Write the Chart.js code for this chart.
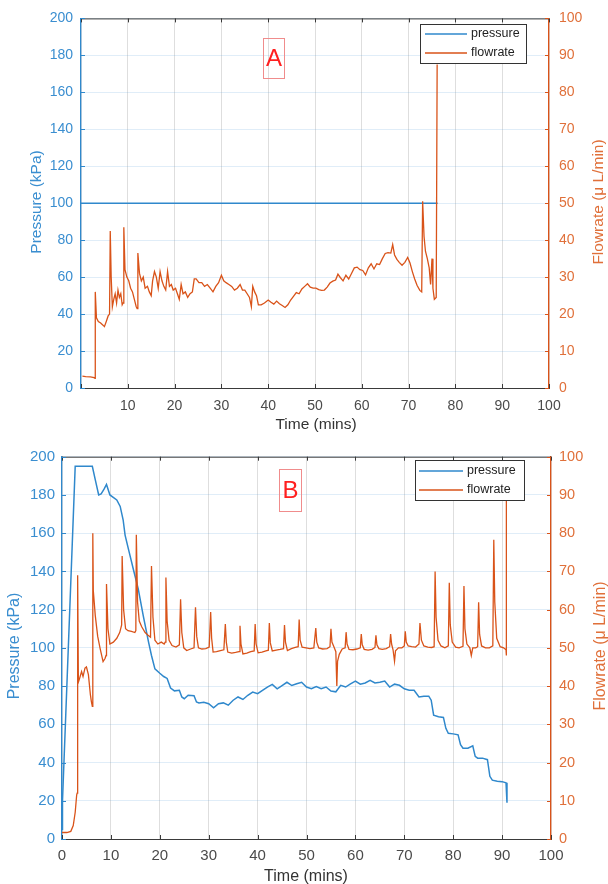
<!DOCTYPE html>
<html>
<head>
<meta charset="utf-8">
<script src="https://cdn.jsdelivr.net/npm/chart.js@4.4.1/dist/chart.umd.min.js"></script>
<style>
  body { margin: 0; background: #fff; }
  .panel { position: absolute; left: 0; width: 608px; }
  #wrapA { top: 0; height: 440px; }
  #wrapB { top: 440px; height: 444px; }
</style>
</head>
<body>
<div class="panel" id="wrapA"><canvas id="chartA" width="608" height="440"></canvas></div>
<div class="panel" id="wrapB"><canvas id="chartB" width="608" height="444"></canvas></div>
<script>
// ---- panel A ----
const timePressureA = [0, 76.2];
const pressureA = [100, 100];

const timeFlowA = [
  0.3, 1, 2, 2.8, 3.0, 3.05, 3.3, 3.7, 4.2, 4.7, 5.0, 5.4, 5.8, 6.1, 6.25, 6.45, 6.7, 7.0, 7.3, 7.6,
  7.9, 8.2, 8.5, 8.8, 9.0, 9.15, 9.4, 9.8, 10.2, 10.6, 11.0, 11.4, 11.8, 12.0, 12.15, 12.5, 12.9, 13.3, 13.7, 14.2,
  14.6, 15.0, 15.3, 15.7, 16.1, 16.5, 16.9, 17.3, 17.7, 18.1, 18.5, 18.9, 19.3, 19.7, 20.2, 20.6, 21.0, 21.4, 21.8, 22.3,
  22.8, 23.3, 23.8, 24.2, 24.6, 25.2, 25.8, 26.4, 27.0, 27.6, 28.2, 28.8, 29.4, 30.0, 30.5, 31.0, 31.6, 32.2, 32.8, 33.4,
  34.0, 34.5, 35.0, 35.5, 36.0, 36.4, 36.7, 37.1, 37.5, 37.9, 38.5, 39.2, 40.0, 40.6, 41.2, 41.8, 42.4, 43.0, 43.6, 44.2,
  44.8, 45.4, 46.0, 46.6, 47.2, 47.8, 48.4, 49.0, 49.6, 50.2, 50.8, 51.4, 52.0, 52.6, 53.2, 53.8, 54.4, 54.9, 55.4, 56.0,
  56.6, 57.2, 57.8, 58.4, 59.0, 59.6, 60.2, 60.8, 61.4, 62.0, 62.6, 63.2, 63.8, 64.4, 65.0, 65.6, 66.2, 66.6, 67.0, 67.5,
  68.0, 68.6, 69.2, 69.8, 70.3, 70.8, 71.3, 71.8, 72.4, 72.8, 73.0, 73.3, 73.6, 74.0, 74.4, 74.7, 75.0, 75.2, 75.5, 75.9, 76.1
];
const flowA = [
  3.2, 3.1, 3.0, 2.8, 2.6, 26, 19, 18, 17.6, 17, 16.6, 18, 19.5, 20, 42.5, 30, 22, 24, 25.5, 23,
  26.5, 24.5, 25.5, 22.5, 23, 43.5, 32, 30, 29, 27, 26, 24, 22, 21.5, 36.5, 31, 29, 30, 27, 27.5,
  26, 25, 29, 31.5, 30, 27, 31.5, 29, 27.5, 26.5, 31.5, 27.5, 28, 26.5, 27, 25.5, 24, 28, 25.5, 26,
  24.5, 25.5, 26, 29.5, 29.5, 28.5, 28.5, 27.5, 28, 27, 26, 27.5, 28.5, 30.5, 29, 28.5, 28, 27.5, 26.5, 27,
  28, 26.5, 26.5, 25.5, 24.5, 22, 27.5, 26, 25, 22.5, 22.5, 23, 23.8, 23.2, 22.7, 23.5, 22.8, 22.3, 21.8, 22.5,
  23.8, 24.8, 25.8, 25.5, 26.8, 27.5, 28.2, 27.3, 27, 27, 26.6, 26.4, 26.5, 27.3, 28.4, 28.9, 29.2, 30.8, 29.9, 29,
  30.5, 29.5, 31, 32.5, 32.7, 32, 31.8, 30.6, 32.5, 33.6, 32.2, 33.6, 33.4, 35, 36.4, 36.6, 36.5, 38.8, 36, 34.8,
  34, 33.2, 34, 35.3, 33.8, 31.5, 29.5, 27.8, 26.4, 26, 50.5, 41, 37, 35, 32.5, 28, 35, 27, 24, 24.5, 87.5
];

// ---- panel B ----
const timePressureB = [
  0, 0.1, 2.7, 6.2, 6.8, 7.5, 8.0, 8.6, 9.1, 9.8, 11.2, 11.9, 12.5, 12.9, 13.6, 14.6, 15.6, 16.6, 17.7, 18.3,
  19.0, 20.0, 20.8, 21.5, 22.2, 23, 24, 24.5, 25, 25.8, 27, 27.5, 28, 29, 30, 31, 32, 33,
  34, 35, 36, 37, 38, 39, 40, 41, 42, 43, 44, 45, 46, 47, 48, 49, 50, 51, 52, 53,
  54, 55, 56, 57, 58, 59, 60, 61, 62, 63, 64, 65, 66, 67, 68, 69, 70, 71, 72, 73,
  74, 75, 75.5, 76, 77, 78, 78.5, 79, 80, 81, 81.5, 82, 83, 84, 84.5, 85, 86, 87, 87.5, 88,
  89, 90, 90.8, 91
];
const pressureB = [
  5, 20, 195, 195, 188, 180, 180.5, 183, 185.5, 180, 177.4, 174, 167, 159, 151.5, 141, 130.7, 117, 103, 96,
  89, 86.7, 85, 84, 79, 77.5, 77.8, 74.3, 73.4, 75.2, 75, 71.7, 71.2, 71.5, 70.8, 68.6, 70.8, 71.2,
  70, 72.6, 74.3, 73, 75.2, 76.9, 76, 77.8, 79.5, 80.9, 78.6, 80.3, 82, 80.3, 81.2, 82, 79.5, 78.6, 79.8, 78.6,
  79.5, 77.4, 77, 80.4, 79.5, 81.2, 82.6, 81, 81.6, 83, 81.6, 82, 82.6, 79.5, 81, 80.4, 78.6, 77.8, 77.8, 74.3,
  74.7, 74.7, 72.6, 64.8, 64, 63.6, 57.9, 55.3, 55, 54.5, 49.3, 47.5, 47.5, 48.7, 43.2, 42.3, 42.3, 41.5, 32.8, 30.8,
  30.2, 30, 29.4, 19
];

const timeFlowB = [
  0, 1, 1.8, 2.3, 2.7, 3.0, 3.1, 3.2, 3.35, 3.6, 4.0, 4.3, 4.7, 5.0, 5.4, 5.8, 6.0, 6.2, 6.3, 6.4,
  6.8, 7.3, 7.8, 8.4, 8.8, 9.0, 9.1, 9.4, 9.8, 10.5, 11.2, 11.8, 12.2, 12.3, 12.6, 13.0, 13.5, 14.2, 14.9,
  15.1, 15.2, 15.45, 15.8, 16.3, 17.0, 17.6, 18.1, 18.3, 18.6, 19.0, 19.6, 20.3, 20.9, 21.1, 21.25, 21.5, 21.9, 22.5, 23.3,
  24.0, 24.25, 24.5, 24.9, 25.5, 26.3, 27.0, 27.3, 27.55, 27.9, 28.6, 29.4, 30.1, 30.4, 30.6, 30.9, 31.6, 32.4, 33.1, 33.4,
  33.6, 33.9, 34.7, 35.5, 36.2, 36.4, 36.6, 37.0, 37.8, 38.6, 39.3, 39.5, 39.7, 40.1, 40.9, 41.7, 42.2, 42.4, 42.6, 43.0,
  43.8, 44.6, 45.3, 45.5, 45.7, 46.1, 46.9, 47.7, 48.3, 48.5, 48.7, 49.1, 49.9, 50.7, 51.5, 51.9, 52.1, 52.5, 53.3, 54.2,
  54.8, 55.0, 55.2, 55.6, 56.0, 56.2, 56.35, 56.7, 57.3, 57.9, 58.1, 58.3, 58.7, 59.5, 60.3, 61.0, 61.2, 61.4, 61.8, 62.6,
  63.4, 64.0, 64.2, 64.4, 64.8, 65.5, 66.3, 67.0, 67.2, 67.4, 67.7, 68.0, 68.2, 68.8, 69.5, 70.0, 70.2, 70.4, 70.8, 71.5,
  72.3, 73.0, 73.2, 73.5, 74.0, 74.8, 75.6, 76.1, 76.3, 76.5, 76.9, 77.5, 78.3, 79.0, 79.2, 79.4, 79.8, 80.5, 81.2, 82.0,
  82.2, 82.4, 82.8, 83.4, 83.7, 84.0, 84.6, 85.0, 85.2, 85.4, 85.8, 86.6, 87.4, 88.1, 88.3, 88.5, 88.9, 89.6, 90.3, 90.8,
  90.85, 90.9
];
const flowB = [
  1.7, 1.7, 2.0, 3.5, 7, 11.5, 12, 69, 41, 42, 43.8, 42.5, 44.7, 45, 43, 37.8, 36, 34.7, 80, 65,
  58.5, 53, 49.8, 46.4, 47.2, 48, 66.7, 55, 51, 51.5, 52.5, 54, 56, 74, 60, 55, 54.5, 54.3, 54,
  54.5, 79.6, 62, 57, 55.5, 54, 53.3, 52.8, 71.4, 58, 52, 51, 51.5, 51, 51.5, 68.4, 57, 52, 50.6, 50.2,
  50.8, 62.7, 54, 50, 49.3, 49.7, 50, 60.6, 53, 50, 49.7, 49.8, 50.2, 59.4, 52.5, 48.9, 49, 49.3, 49.5, 56.2,
  51.5, 48.9, 48.6, 48.8, 49, 55.8, 51, 48.4, 48.6, 49, 49.2, 56.2, 51, 48.7, 48.9, 49.2, 49.4, 56.5, 51.3, 49.2,
  49.4, 49.6, 49.8, 56, 51.5, 49.3, 49.8, 50.1, 50.3, 57.4, 52, 50.2, 50, 49.8, 50, 55.2, 51.5, 50, 49.7, 49.8,
  50.3, 55, 51.5, 50.3, 49, 40, 46.5, 48.3, 49.7, 50, 54.1, 51, 49.6, 49.5, 49.7, 50, 53.6, 50.8, 49.6, 49.4,
  49.6, 50.1, 53.3, 50.8, 49.8, 49.6, 49.8, 50.3, 53.6, 51, 49.5, 46.5, 49.2, 50, 50, 50.5, 54.3, 51.5, 50.5, 50.3,
  50.2, 51, 56.5, 52, 50.5, 50.2, 50.1, 50.3, 70, 58, 52, 50.5, 50, 50.5, 67, 56, 51.5, 50.2, 50, 50.4,
  66.2, 55, 51, 50, 48, 50, 50, 50.3, 61.9, 53.5, 50.5, 50, 50, 50.5, 78.3, 62, 52.5, 50.3, 50, 49.5,
  48, 89.6
];

const xTicks = [0, 10, 20, 30, 40, 50, 60, 70, 80, 90, 100];

const BLUE = '#2F88CC';
const BLUE_TEXT = '#3A8ED0';
const ORANGE = '#D95319';
const ORANGE_TEXT = '#E0703A';
const AXIS = '#3a3a3a';

const toPoints = (xs, ys) => xs.map((x, i) => ({ x, y: ys[i] }));

const overlay = {
  id: 'overlay',
  afterDraw(chart, args, o) {
    const { ctx, chartArea: a, scales } = chart;
    ctx.save();
    // top box line
    ctx.strokeStyle = AXIS;
    ctx.lineWidth = 1;
    ctx.beginPath();
    ctx.moveTo(a.left, a.top + 0.5);
    ctx.lineTo(a.right, a.top + 0.5);
    ctx.stroke();
    // inward tick marks
    ctx.beginPath();
    scales.x.ticks.forEach(t => {
      const px = Math.round(scales.x.getPixelForValue(t.value)) + 0.5;
      ctx.moveTo(px, a.top); ctx.lineTo(px, a.top + 4);
      ctx.moveTo(px, a.bottom); ctx.lineTo(px, a.bottom - 4);
    });
    ctx.stroke();
    ctx.strokeStyle = BLUE;
    ctx.beginPath();
    scales.y.ticks.forEach(t => {
      const py = Math.round(scales.y.getPixelForValue(t.value)) + 0.5;
      ctx.moveTo(a.left, py); ctx.lineTo(a.left + 4, py);
    });
    ctx.stroke();
    ctx.strokeStyle = ORANGE;
    ctx.beginPath();
    scales.y1.ticks.forEach(t => {
      const py = Math.round(scales.y1.getPixelForValue(t.value)) + 0.5;
      ctx.moveTo(a.right, py); ctx.lineTo(a.right - 4, py);
    });
    ctx.stroke();

    // axis titles
    const font = o.titleSize + 'px "Liberation Sans", Arial, sans-serif';
    ctx.font = font;
    ctx.textAlign = 'center';
    ctx.textBaseline = 'middle';
    ctx.fillStyle = '#333';
    ctx.fillText('Time (mins)', o.xTitle[0], o.xTitle[1]);
    ctx.fillStyle = BLUE_TEXT;
    ctx.save();
    ctx.translate(o.yTitle[0], o.yTitle[1]);
    ctx.rotate(-Math.PI / 2);
    ctx.fillText('Pressure (kPa)', 0, 0);
    ctx.restore();
    ctx.fillStyle = ORANGE_TEXT;
    ctx.save();
    ctx.translate(o.y1Title[0], o.y1Title[1]);
    ctx.rotate(-Math.PI / 2);
    ctx.fillText('Flowrate (\u03BC L/min)', 0, 0);
    ctx.restore();

    // legend
    const [lx, ly, lw, lh] = o.legend;
    ctx.fillStyle = '#fff';
    ctx.fillRect(lx, ly, lw, lh);
    ctx.strokeStyle = '#333';
    ctx.lineWidth = 1;
    ctx.strokeRect(lx + 0.5, ly + 0.5, lw, lh);
    ctx.font = '12.5px "Liberation Sans", Arial, sans-serif';
    ctx.textAlign = 'left';
    [[BLUE, 'pressure', o.legendRows[0]], [ORANGE, 'flowrate', o.legendRows[1]]].forEach(([c, label, ry]) => {
      ctx.strokeStyle = c;
      ctx.lineWidth = 1.5;
      ctx.beginPath();
      ctx.moveTo(o.legendLine[0], ry);
      ctx.lineTo(o.legendLine[1], ry);
      ctx.stroke();
      ctx.fillStyle = '#222';
      ctx.fillText(label, o.legendLine[1] + 4, ry);
    });

    // panel letter
    const [bx, by, bw, bh] = o.letterBox;
    ctx.strokeStyle = '#F08C8C';
    ctx.lineWidth = 1;
    ctx.strokeRect(bx + 0.5, by + 0.5, bw, bh);
    ctx.fillStyle = '#FF2020';
    ctx.font = '24px "Liberation Sans", Arial, sans-serif';
    ctx.textAlign = 'center';
    ctx.fillText(o.letter, bx + bw / 2 + 0.5, by + bh / 2 + 1);
    ctx.restore();
  }
};

function makeChart(id, cfg) {
  const fixWidth = w => (scale) => { scale.width = w; };
  return new Chart(document.getElementById(id), {
    type: 'line',
    data: {
      datasets: [
        {
          label: 'pressure', data: toPoints(cfg.tp, cfg.p), yAxisID: 'y',
          borderColor: BLUE, borderWidth: 1.5, pointRadius: 0, tension: 0, order: 1
        },
        {
          label: 'flowrate', data: toPoints(cfg.tf, cfg.f), yAxisID: 'y1',
          borderColor: ORANGE, borderWidth: 1.3, pointRadius: 0, tension: 0, order: 0
        }
      ]
    },
    options: {
      responsive: false,
      animation: false,
      layout: { padding: { top: cfg.top, left: 0, right: 0, bottom: 0 } },
      plugins: { legend: { display: false }, tooltip: { enabled: false }, overlay: cfg.overlay },
      scales: {
        x: {
          type: 'linear', min: 0, max: 100,
          afterBuildTicks: s => { s.ticks = xTicks.map(v => ({ value: v })); },
          afterFit: s => { s.height = cfg.xh; },
          ticks: {
            color: '#4a4a4a', padding: cfg.xpad,
            font: { size: cfg.fs, family: '"Liberation Sans", Arial, sans-serif' },
            callback: v => (cfg.hideZero && v === 0 ? '' : String(v))
          },
          grid: { color: 'rgba(0,0,0,0.13)', drawTicks: false },
          border: { color: AXIS, width: 1 }
        },
        y: {
          position: 'left', min: 0, max: 200,
          afterBuildTicks: s => { s.ticks = cfg.yTicks.map(v => ({ value: v })); },
          afterFit: fixWidth(cfg.yw),
          ticks: {
            color: BLUE_TEXT, padding: cfg.ypad,
            font: { size: cfg.fs, family: '"Liberation Sans", Arial, sans-serif' }
          },
          grid: { color: 'rgba(60,140,210,0.16)', drawTicks: false },
          border: { color: BLUE, width: 1.3 }
        },
        y1: {
          position: 'right', min: 0, max: 100,
          afterBuildTicks: s => { s.ticks = cfg.y1Ticks.map(v => ({ value: v })); },
          afterFit: fixWidth(cfg.y1w),
          ticks: {
            color: ORANGE_TEXT, padding: cfg.y1pad,
            font: { size: cfg.fs1, family: '"Liberation Sans", Arial, sans-serif' }
          },
          grid: { display: false, drawTicks: false },
          border: { color: ORANGE, width: 1.3 }
        }
      }
    },
    plugins: [overlay]
  });
}

const pressureTicks = [0, 20, 40, 60, 80, 100, 120, 140, 160, 180, 200];
const flowTicks = [0, 10, 20, 30, 40, 50, 60, 70, 80, 90, 100];

makeChart('chartA', {
  tp: timePressureA, p: pressureA, tf: timeFlowA, f: flowA,
  yTicks: pressureTicks, y1Ticks: flowTicks,
  top: 16, xh: 52, yw: 81, y1w: 59, xpad: 10, ypad: 8, y1pad: 10, fs: 14, fs1: 14, hideZero: true,
  overlay: {
    titleSize: 15.5, xTitle: [316, 425], yTitle: [37, 202], y1Title: [599, 202],
    legend: [420, 24, 106, 39], legendRows: [34, 53], legendLine: [425, 467],
    letterBox: [263, 38, 21, 40], letter: 'A'
  }
});

makeChart('chartB', {
  tp: timePressureB, p: pressureB, tf: timeFlowB, f: flowB,
  yTicks: pressureTicks, y1Ticks: flowTicks,
  top: 13, xh: 45, yw: 62, y1w: 57, xpad: 8, ypad: 7, y1pad: 8, fs: 15, fs1: 14.5, hideZero: false,
  overlay: {
    titleSize: 16, xTitle: [306, 437], yTitle: [15, 206], y1Title: [601, 206],
    legend: [415, 20, 109, 40], legendRows: [31, 50], legendLine: [419, 463],
    letterBox: [279, 29, 22, 42], letter: 'B'
  }
});
</script>
</body>
</html>
